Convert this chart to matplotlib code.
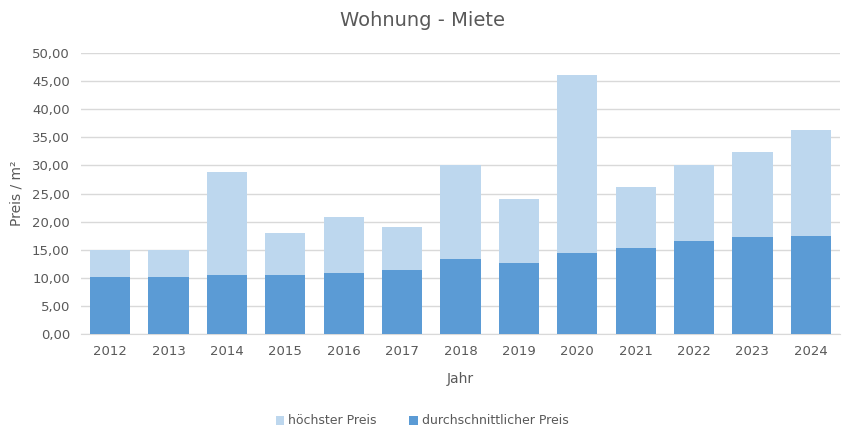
import numpy as np
import matplotlib
matplotlib.use('Agg')
from matplotlib import pyplot as plt

# Wohnung - Miete, Preis pro m2
jahre = ['2012', '2013', '2014', '2015', '2016', '2017', '2018',
         '2019', '2020', '2021', '2022', '2023', '2024']
hoechster = [15.0, 15.0, 28.9, 18.0, 20.9, 19.0, 30.0, 24.0, 46.0, 26.2, 30.0, 32.4, 36.3]
durchschnitt = [10.15, 10.15, 10.5, 10.5, 10.9, 11.4, 13.4, 12.7, 14.4, 15.3, 16.6, 17.3, 17.5]

grau = '#595959'
plt.rcParams['font.family'] = ['DejaVu Sans']

fig = plt.figure(figsize=(8.44, 4.34), dpi=100)
ax = fig.add_axes([81/844, 100/434, 759/844, 281/434])

x = np.arange(len(jahre))
ax.bar(x, hoechster, width=0.69, color='#BDD7EE', label='höchster Preis', zorder=2)
ax.bar(x, durchschnitt, width=0.69, color='#5B9BD5', label='durchschnittlicher Preis', zorder=3)

ax.set_xlim(-0.5, len(jahre) - 0.5)
ax.set_ylim(0, 50)
ax.set_yticks(np.arange(0, 51, 5))
ax.set_yticklabels(['%d,00' % v for v in range(0, 51, 5)])
ax.set_xticks(x)
ax.set_xticklabels(jahre)
ax.tick_params(axis='both', length=0, colors=grau, labelsize=9.5)
ax.tick_params(axis='y', pad=8)
ax.tick_params(axis='x', pad=8)
ax.grid(axis='y', color='#D9D9D9', linewidth=1, zorder=0)
for s in ['top', 'right', 'left']:
    ax.spines[s].set_visible(False)
ax.spines['bottom'].set_color('#D9D9D9')

fig.text(0.5, 1 - 20/434, 'Wohnung - Miete', color=grau, fontsize=14,
         ha='center', va='center')
ax.set_xlabel('Jahr', color=grau, fontsize=10, labelpad=10)
ax.set_ylabel('Preis / m²', color=grau, fontsize=10, labelpad=6)

fig.legend(loc='center', bbox_to_anchor=(0.5, 1 - 421/434), ncol=2, frameon=False,
           fontsize=9, labelcolor=grau, handlelength=0.7, handleheight=0.7,
           columnspacing=2.6, handletextpad=0.3)

fig.savefig('out.png', dpi=100)
